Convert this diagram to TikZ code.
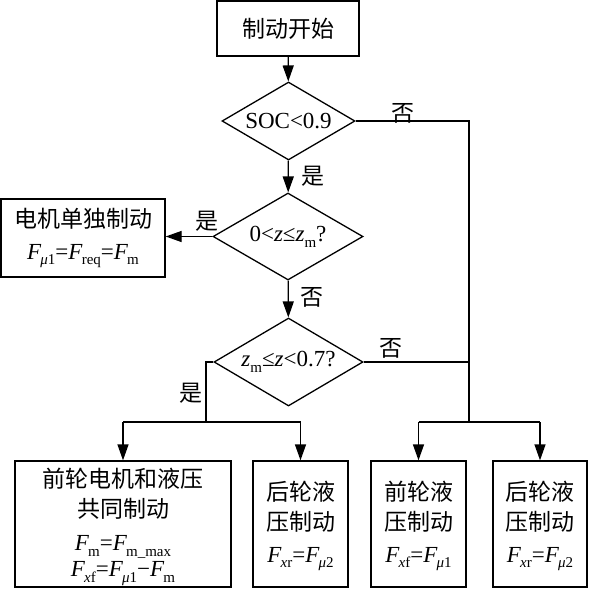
\documentclass[tikz,border=0pt]{standalone}
\usepackage{fontspec}
\setmainfont{Liberation Serif}
\newfontfamily\cjk{Noto Sans CJK SC}
\usetikzlibrary{shapes.geometric,arrows.meta}
\newcommand{\Fs}[1]{\textit{F}\kern-0.04em\raisebox{-0.25em}{\fontsize{15}{15}\selectfont #1}}
\newcommand{\mus}{\textit{μ}}
\newcommand{\zit}{\textit{z}}
\begin{document}
\begin{tikzpicture}[x=1pt,y=-1pt,
  every node/.style={font=\fontsize{23}{30}\selectfont},
  box/.style={draw,line width=1.3pt,rectangle,inner sep=0pt,align=center},
  txt/.style={inner sep=0pt,align=center},
  dia/.style={draw,line width=1.3pt,diamond,inner sep=0pt},
  conn/.style={line width=1.3pt},
  arr/.style={line width=1.3pt,-{Triangle[length=16pt,width=11pt]}},
  lab/.style={inner sep=0pt}]
\useasboundingbox (0,0) rectangle (589,589);
% nodes
\node[box,minimum width=142pt,minimum height=55pt] (start) at (288,28.5) {\cjk 制动开始};
\node[dia,minimum width=133pt,minimum height=78pt] (d1) at (288.5,121) {};
\node[txt] (t1) at (d1) {SOC<0.9};
\node[dia,minimum width=150pt,minimum height=87pt] (d2) at (288,236.5) {};
\node[txt] (t2) at (d2) {0<\zit≤\zit\raisebox{-0.25em}{\fontsize{15}{15}\selectfont m}?};
\node[dia,minimum width=149pt,minimum height=88pt] (d3) at (288.5,362) {};
\node[txt] (t3) at (d3) {\zit\raisebox{-0.25em}{\fontsize{15}{15}\selectfont m}≤\zit<0.7?};
\node[box,minimum width=164pt,minimum height=78pt] (lbox) at (83,238) {{\cjk 电机单独制动}\\[2pt] \Fs{\mus1}=\Fs{req}=\Fs{m}};
\node[box,minimum width=216pt,minimum height=126pt] (bA) at (123,524) {};
\node[txt] (tA) at (123,527) {{\cjk 前轮电机和液压}\\{\cjk 共同制动}\\[3pt]\Fs{m}=\Fs{m\_max}\\[-4pt]\Fs{\textit{x}f}=\Fs{\mus1}−\Fs{m}};
\node[box,minimum width=95pt,minimum height=126pt] (bB) at (300.5,524) {};
\node[txt] (tB) at (300.5,526) {{\cjk 后轮液}\\{\cjk 压制动}\\[2pt]\Fs{\textit{x}r}=\Fs{\mus2}};
\node[box,minimum width=95pt,minimum height=126pt] (bC) at (418.5,524) {};
\node[txt] (tC) at (418.5,526) {{\cjk 前轮液}\\{\cjk 压制动}\\[2pt]\Fs{\textit{x}f}=\Fs{\mus1}};
\node[box,minimum width=94pt,minimum height=126pt] (bD) at (540,524) {};
\node[txt] (tD) at (540,526) {{\cjk 后轮液}\\{\cjk 压制动}\\[2pt]\Fs{\textit{x}r}=\Fs{\mus2}};
% coordinates
\coordinate (v1) at (469,121);
\coordinate (v2) at (469,362);
\coordinate (v3) at (469,422);
\coordinate (rb1) at (418.5,422);
\coordinate (rb2) at (540,422);
\coordinate (l1) at (206,362);
\coordinate (l2) at (206,422);
\coordinate (lb1) at (123,422);
\coordinate (lb2) at (300.5,422);
% connectors
\draw[arr] (start) -- (d1);
\draw[arr] (d1) -- (d2);
\draw[arr] (d2) -- (d3);
\draw[arr] (d2.west) -- (d2.west -| lbox.east);
\draw[conn] (d1.east) -- (v1) -- (v3);
\draw[conn] (d3.east) -- (v2);
\draw[conn] (rb1) -- (rb2);
\draw[arr] (rb1) -- (bC);
\draw[arr] (rb2) -- (bD);
\draw[conn] (d3.west) -- (l1) -- (l2);
\draw[conn] (lb1) -- (lb2);
\draw[arr] (lb1) -- (bA);
\draw[arr] (lb2) -- (bB);
% labels
\node[lab] (n1) at (403,113) {\cjk 否};
\node[lab] (y1) at (313,176) {\cjk 是};
\node[lab] (y2) at (207,221) {\cjk 是};
\node[lab] (n2) at (312,297) {\cjk 否};
\node[lab] (n3) at (391,348) {\cjk 否};
\node[lab] (y3) at (191,393) {\cjk 是};
\end{tikzpicture}
\end{document}
